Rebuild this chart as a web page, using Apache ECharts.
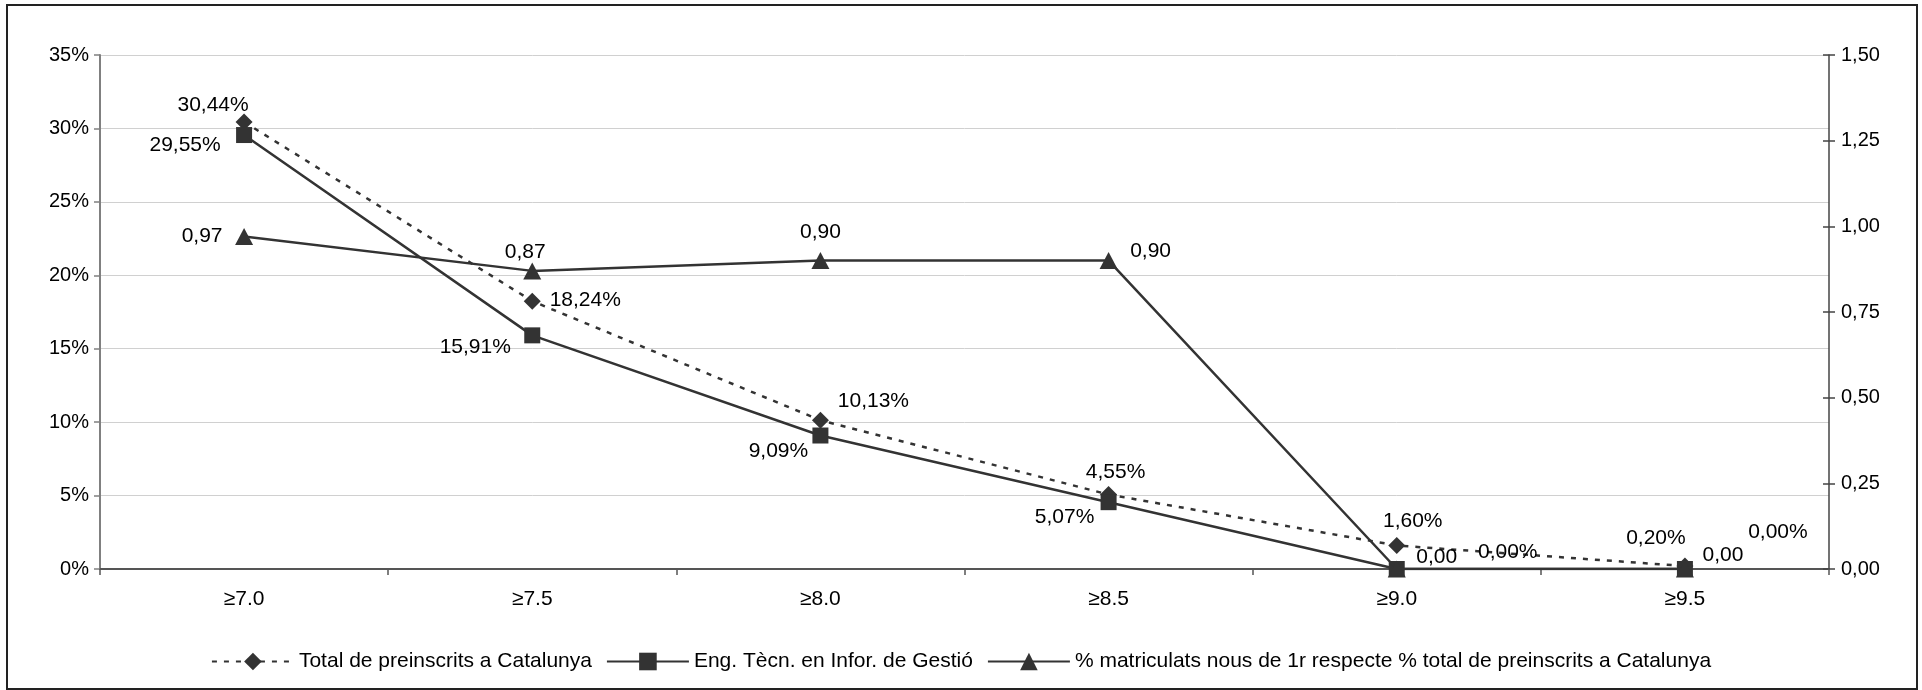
<!DOCTYPE html>
<html>
<head>
<meta charset="utf-8">
<script src="https://cdn.jsdelivr.net/npm/echarts@6/dist/echarts.min.js"></script>
<style>
html,body{margin:0;padding:0;background:#fff;}
#chart{width:1922px;height:690px;}
</style>
</head>
<body>
<div id="chart"></div>
<script>
// ---- data ----
var categories = ['≥7.0', '≥7.5', '≥8.0', '≥8.5', '≥9.0', '≥9.5'];
var totalCat = [30.44, 18.24, 10.13, 5.07, 1.60, 0.20];
var engTecn = [29.55, 15.91, 9.09, 4.55, 0.00, 0.00];
var matricRatio = [0.97, 0.87, 0.90, 0.90, 0.00, 0.00];
var seriesNames = [
  'Total de preinscrits a Catalunya',
  'Eng. Tècn. en Infor. de Gestió',
  '% matriculats nous de 1r respecte % total de preinscrits a Catalunya'
];
var leftTicks = {min: 0, max: 35, interval: 5};
var rightTicks = {min: 0, max: 1.5, interval: 0.25};

// ---- label layout (offsets from point centre) ----
var totalOff = [[-31,-17],[53,-1],[53,-19],[-44,23],[16,-24],[-29,-28]];
var engOff = [[-59,10],[-57,12],[-42,16],[7,-30],[111,-17],[93,-37]];
var ratioOff = [[-42,0],[-7,-19],[0,-28],[42,-9],[40,-12],[38,-14]];

var FONT = "'Liberation Sans', Arial, sans-serif";
var DARK = '#333333';

function fmt(v, pct) {
  return v.toFixed(2).replace('.', ',') + (pct ? '%' : '');
}
function build(values, offs) {
  return values.map(function (v, i) {
    return {value: v, label: {offset: offs[i]}};
  });
}
function baseLabel(pct) {
  return {
    show: true,
    position: 'inside',
    align: 'center',
    verticalAlign: 'middle',
    fontFamily: FONT,
    fontSize: 21,
    color: '#000',
    formatter: function (p) { return fmt(p.value, pct); }
  };
}

var chart = echarts.init(document.getElementById('chart'), null, {renderer: 'canvas'});
chart.setOption({
  animation: false,
  backgroundColor: '#fff',
  grid: {left: 100, right: 93, top: 55, bottom: 121, containLabel: false},
  graphic: [{
    type: 'rect',
    shape: {x: 7, y: 5, width: 1910, height: 684},
    style: {fill: 'none', stroke: '#222', lineWidth: 2},
    silent: true, z: 100
  }],
  legend: {
    left: 'center',
    top: 646,
    itemWidth: 82,
    itemHeight: 22,
    itemGap: 14,
    textStyle: {fontFamily: FONT, fontSize: 21, color: '#000'},
    data: seriesNames
  },
  xAxis: {
    type: 'category',
    data: categories,
    boundaryGap: true,
    axisLine: {onZero: false, lineStyle: {color: '#555', width: 2}},
    axisTick: {show: true, length: 6, lineStyle: {color: '#555', width: 1.5}},
    axisLabel: {fontFamily: FONT, fontSize: 21, color: '#000', margin: 20},
    splitLine: {show: false}
  },
  yAxis: [{
    type: 'value',
    position: 'left',
    min: leftTicks.min, max: leftTicks.max, interval: leftTicks.interval,
    axisLine: {show: true, lineStyle: {color: '#808080', width: 2}},
    axisTick: {show: true, length: 6, lineStyle: {color: '#808080', width: 1.5}},
    axisLabel: {fontFamily: FONT, fontSize: 20, color: '#000', margin: 11,
      formatter: function (v) { return v + '%'; }},
    splitLine: {show: true, lineStyle: {color: '#d0d0d0', width: 1}}
  }, {
    type: 'value',
    position: 'right',
    min: rightTicks.min, max: rightTicks.max, interval: rightTicks.interval,
    axisLine: {show: true, lineStyle: {color: '#444', width: 1.5}},
    axisTick: {show: true, length: 6, lineStyle: {color: '#444', width: 1.5}},
    axisLabel: {fontFamily: FONT, fontSize: 20, color: '#000', margin: 12,
      formatter: function (v) { return v.toFixed(2).replace('.', ','); }},
    splitLine: {show: false}
  }, {
    type: 'value',
    position: 'right',
    min: rightTicks.min, max: rightTicks.max, interval: rightTicks.interval,
    axisLine: {show: false},
    axisTick: {show: true, inside: true, length: 6, lineStyle: {color: '#444', width: 1.5}},
    axisLabel: {show: false},
    splitLine: {show: false}
  }],
  series: [{
    name: seriesNames[0],
    type: 'line',
    yAxisIndex: 0,
    data: build(totalCat, totalOff),
    symbol: 'diamond',
    symbolSize: [17, 17],
    itemStyle: {color: DARK},
    lineStyle: {color: DARK, width: 2.5, type: [5, 7]},
    label: baseLabel(true),
    z: 3
  }, {
    name: seriesNames[1],
    type: 'line',
    yAxisIndex: 0,
    data: build(engTecn, engOff),
    symbol: 'rect',
    symbolSize: 16,
    itemStyle: {color: DARK},
    lineStyle: {color: DARK, width: 2.5},
    label: baseLabel(true),
    z: 4
  }, {
    name: seriesNames[2],
    type: 'line',
    yAxisIndex: 1,
    data: build(matricRatio, ratioOff),
    symbol: 'triangle',
    symbolSize: [18, 17],
    itemStyle: {color: DARK},
    lineStyle: {color: DARK, width: 2.5},
    label: baseLabel(false),
    z: 5
  }]
});
</script>
</body>
</html>
